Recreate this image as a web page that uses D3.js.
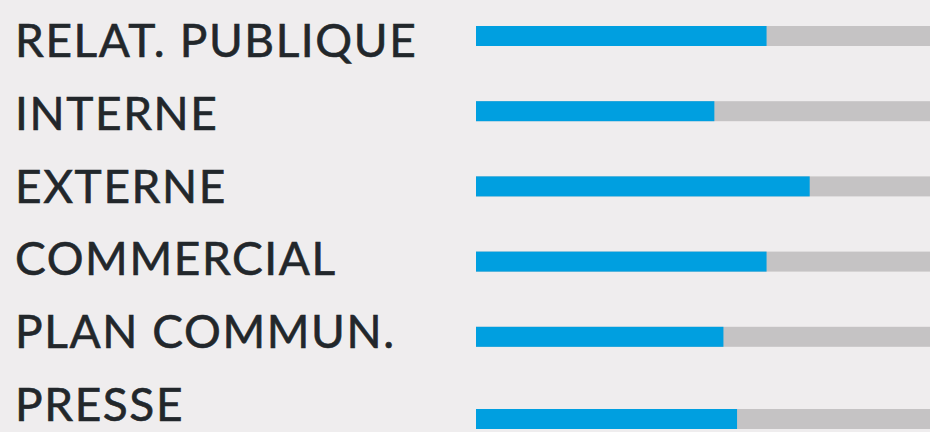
<!DOCTYPE html>
<html>
<head>
<meta charset="utf-8">
<script src="https://cdn.jsdelivr.net/npm/d3@7"></script>
<style>
    html, body { margin: 0; padding: 0; background: #efedee; }
    #chart-svg { display: block; }
    .row-label { font-family: Lato, "DejaVu Sans", sans-serif; font-size: 46px; fill: #22272b; stroke: #22272b; stroke-width: 0.6px; letter-spacing: 1.6px; }
    .track { fill: #c5c3c4; }
    .value-bar { fill: #009fe0; }
</style>
</head>
<body>
<svg id="chart-svg" width="930" height="432"></svg>
<script>
const categories = ["RELAT. PUBLIQUE", "INTERNE", "EXTERNE", "COMMERCIAL", "PLAN COMMUN.", "PRESSE"];
const values = [64, 52.5, 73.5, 64, 54.5, 57.5];
const maxValue = 100;

class SkillBars {
    constructor() {
        this.width = 930;
        this.height = 432;
        this.barLeft = 476;
        this.barHeight = 20;

        //scales:
        this.scaleX = d3.scaleLinear()
            .domain([0, maxValue])
            .range([this.barLeft, this.width]);
        this.scaleLabel = d3.scalePoint()
            .domain(categories)
            .range([57, 421]);
        // bars sit on their own rhythm, last one a bit lower
        this.scaleBar = d3.scalePoint()
            .domain(categories)
            .range([26, 402]);

        this.data = categories.map((c, i) => ({ name: c, value: values[i] }));
        this.drawLabels();
        this.drawBars();
    }

    barTop(d, i) {
        return this.scaleBar(d.name) + (i === categories.length - 1 ? 7 : 0);
    }

    drawLabels() {
        let svgSelect = d3.select("#chart-svg");
        svgSelect.selectAll(".row-label").data(this.data)
            .join("text")
            .attr("class", "row-label")
            .attr("x", 15)
            .attr("y", d => this.scaleLabel(d.name))
            .text(d => d.name);
    }

    drawBars() {
        let svgSelect = d3.select("#chart-svg");
        svgSelect.selectAll(".track").data(this.data)
            .join("rect")
            .attr("class", "track")
            .attr("x", this.scaleX(0))
            .attr("y", (d, i) => this.barTop(d, i))
            .attr("width", this.scaleX(maxValue) - this.scaleX(0))
            .attr("height", this.barHeight);
        svgSelect.selectAll(".value-bar").data(this.data)
            .join("rect")
            .attr("class", "value-bar")
            .attr("x", this.scaleX(0))
            .attr("y", (d, i) => this.barTop(d, i))
            .attr("width", d => this.scaleX(d.value) - this.scaleX(0))
            .attr("height", this.barHeight);
    }
}

new SkillBars();
</script>
</body>
</html>
